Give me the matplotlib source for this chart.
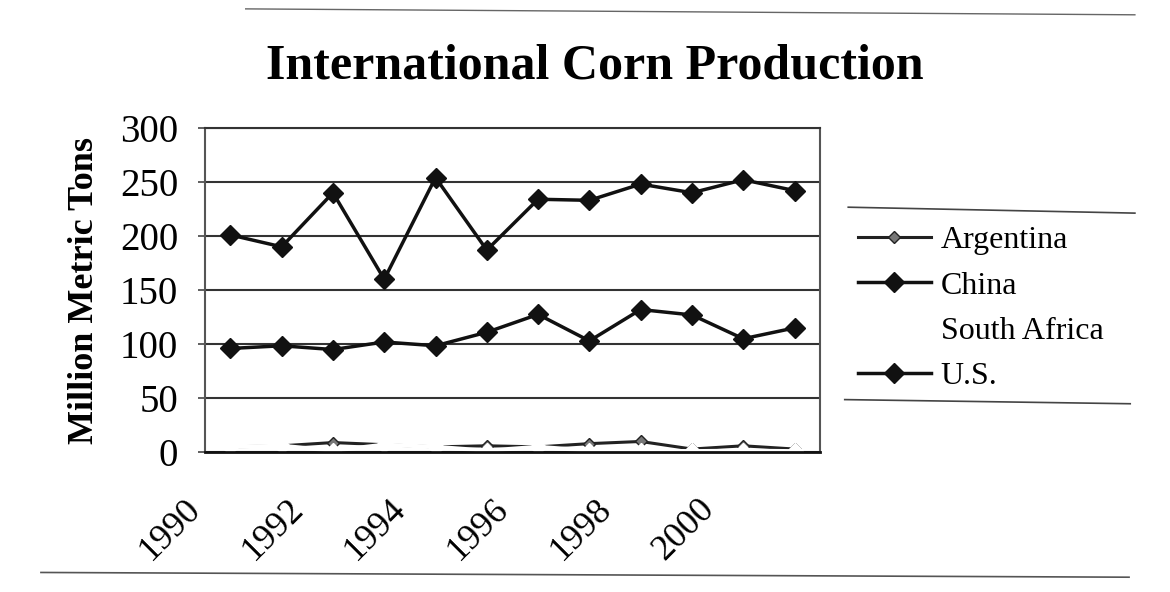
import matplotlib.pyplot as plt
from matplotlib.lines import Line2D
from matplotlib.transforms import ScaledTranslation

# data (million metric tons)
years = list(range(1990, 2002))
argentina = [5, 6, 9, 7, 5, 6, 5, 8, 10, 3, 6, 3]
china = [96, 98.5, 95, 102, 98.5, 111, 127.5, 103, 132, 127, 105, 115]
south_africa = [5, 6, 1.5, 7, 5, 1.5, 5, 1.5, 1.5, 1, 1.5, 1]
us = [201, 190, 240, 160, 254, 187, 234, 233, 248, 240, 252, 242]
tick_years = [1990, 1992, 1994, 1996, 1998, 2000]

plt.rcParams["font.family"] = ["Liberation Serif", "DejaVu Serif"]

fig = plt.figure(figsize=(11.7, 5.92), dpi=100)
ax = fig.add_axes([0.175, 0.236, 0.526, 0.548])

x = list(range(len(years)))
ax.plot(x, argentina, color="#222222", lw=2.2, marker="D", ms=6,
        mfc="#777777", mec="#222222", label="Argentina", zorder=3)
ax.plot(x, china, color="#111111", lw=2.5, marker="D", ms=10,
        mfc="#111111", mec="#111111", label="China", zorder=3)
# South Africa was printed in white: it only shows as gaps in the bottom line
ax.plot(x, south_africa, color="white", lw=3, marker="D", ms=8,
        mfc="white", mec="white", label="South Africa", zorder=4)
ax.plot(x, us, color="#111111", lw=2.5, marker="D", ms=10,
        mfc="#111111", mec="#111111", label="U.S.", zorder=3)

ax.set_xlim(-0.5, len(years) - 0.5)
ax.set_ylim(0, 300)
ax.set_yticks(range(0, 301, 50))
ax.yaxis.grid(True, color="#333333", lw=1.5)
ax.set_axisbelow(True)
ax.tick_params(axis="y", labelsize=28, length=5, width=1.2, color="#444444", pad=14)

tick_pos = [years.index(y) for y in tick_years]
ax.set_xticks(tick_pos)
ax.set_xticklabels([str(y) for y in tick_years], rotation=45, ha="right",
                   rotation_mode="anchor", fontsize=26)
ax.tick_params(axis="x", length=0, pad=29)
shift = ScaledTranslation(-0.46, 0, fig.dpi_scale_trans)
for lab in ax.get_xticklabels():
    lab.set_transform(lab.get_transform() + shift)

for s in ["left", "right"]:
    ax.spines[s].set_color("#555555")
    ax.spines[s].set_linewidth(1.5)
ax.spines["top"].set_color("#333333")
ax.spines["top"].set_linewidth(1.5)
ax.spines["bottom"].set_color("#111111")
ax.spines["bottom"].set_linewidth(2)
for sp in ax.spines.values():
    sp.set_zorder(5)

ax.set_ylabel("Million Metric Tons", fontsize=26, fontweight="bold", labelpad=14)

fig.text(0.508, 0.888, "International Corn Production", ha="center", va="center",
         fontsize=36, fontweight="bold")

leg = ax.legend(loc="upper left", bbox_to_anchor=(0.722, 0.64), bbox_transform=fig.transFigure,
                frameon=False, fontsize=23, handlelength=2.3, labelspacing=0.5,
                handletextpad=0.3, borderaxespad=0)

# legend border remnants and page edges from the scan
fig.add_artist(Line2D([0.725, 0.97], [0.65, 0.64], color="#444444", lw=1.2))
fig.add_artist(Line2D([0.722, 0.966], [0.325, 0.318], color="#444444", lw=1.2))
fig.add_artist(Line2D([0.21, 0.97], [0.985, 0.975], color="#666666", lw=1))
fig.add_artist(Line2D([0.035, 0.965], [0.033, 0.025], color="#555555", lw=1.2))

fig.savefig("out.png", dpi=100)
